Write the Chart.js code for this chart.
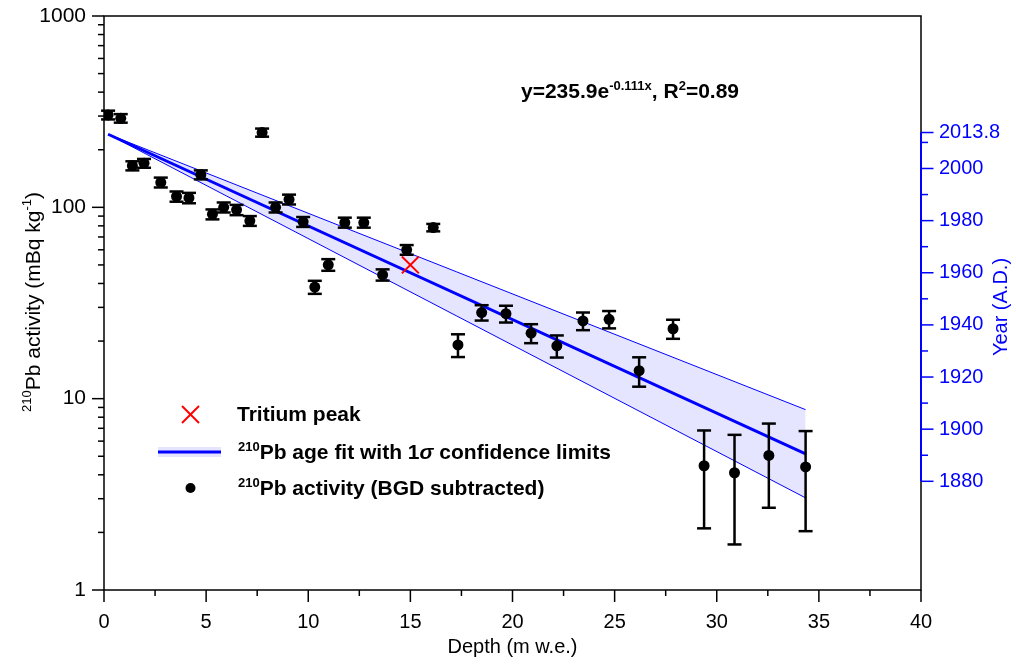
<!DOCTYPE html>
<html>
<head>
<meta charset="utf-8">
<script src="https://cdn.jsdelivr.net/npm/chart.js@4.4.1/dist/chart.umd.min.js"></script>
<style>
  html, body { margin: 0; padding: 0; background: #fff; }
</style>
</head>
<body>
<canvas id="grafico" width="1016" height="664"></canvas>
<script>
// dados
const depth = [0.2, 0.82, 1.39, 1.96, 2.78, 3.55, 4.16, 4.74, 5.31, 5.86, 6.49, 7.14, 7.74, 8.4, 9.06, 9.75,
  10.32, 10.98, 11.79, 12.72, 13.64, 14.82, 16.12, 17.33, 18.49, 19.68, 20.91, 22.17, 23.45, 24.73,
  26.2, 27.86, 29.38, 30.87, 32.55, 34.35];
const activity = [304, 292, 165, 170, 135, 114, 112, 148, 92, 100, 97, 85, 246, 100, 110, 84,
  38.3, 50.1, 83.3, 83.3, 44.4, 60, 78.4, 19.1, 28.2, 27.8, 22, 18.9, 25.5, 26,
  14, 23.2, 4.46, 4.1, 5.05, 4.4];
const activityErr = [16, 15, 9, 9, 8, 7, 7, 8, 5.5, 6, 6, 5, 12, 6, 6.5, 5,
  3, 3.5, 5, 5, 3, 3.5, 3.5, 2.6, 2.6, 2.8, 2.5, 2.5, 2.7, 2.7,
  2.45, 2.65, 2.36, 2.37, 2.36, 2.37];

const fitDepth = [0.2, 34.35];
const fitActivity = [241, 5.14];
const bandUpper = [241, 8.76];
const bandLower = [241, 3.03];

const tritiumDepth = [15];
const tritiumActivity = [50];

const depthTicks = [0, 2.5, 5, 7.5, 10, 12.5, 15, 17.5, 20, 22.5, 25, 27.5, 30, 32.5, 35, 37.5, 40];
const depthLabels = [0, 5, 10, 15, 20, 25, 30, 35, 40];
const activityTicks = [1, 2, 3, 4, 5, 6, 7, 8, 9, 10, 20, 30, 40, 50, 60, 70, 80, 90,
  100, 200, 300, 400, 500, 600, 700, 800, 900, 1000];
const activityLabels = [1, 10, 100, 1000];
const yearTicks = [2013.8, 2010, 2000, 1990, 1980, 1970, 1960, 1950, 1940, 1930, 1920, 1910, 1900, 1890, 1880];
const yearLabels = [2013.8, 2000, 1980, 1960, 1940, 1920, 1900, 1880];
const yearMin = 1838.3;
const yearMax = 2058.5;

const FONTE = '"Liberation Sans", Arial, Helvetica, sans-serif';
const AZUL = "#0000ff";
const FAIXA = "rgba(0,0,255,0.1)";

function pares(xs, ys) {
  return xs.map((x, i) => ({ x: x, y: ys[i] }));
}

function fonte(tam, peso, estilo) {
  return `${estilo || "normal"} ${peso || "normal"} ${tam}px ${FONTE}`;
}

function larguraRica(ctx, partes, tam, peso) {
  let w = 0;
  partes.forEach((p) => {
    ctx.font = fonte(p.sup ? Math.round(tam * 0.62) : tam, peso, p.estilo);
    w += ctx.measureText(p.t).width;
  });
  return w;
}

// texto com sobrescritos, x = inicio, y = linha de base
function textoRico(ctx, partes, x, y, tam, peso, cor) {
  ctx.fillStyle = cor;
  ctx.textAlign = "left";
  ctx.textBaseline = "alphabetic";
  let cx = x;
  partes.forEach((p) => {
    const s = p.sup ? Math.round(tam * 0.62) : tam;
    ctx.font = fonte(s, peso, p.estilo);
    ctx.fillText(p.t, cx, p.sup ? y - tam * 0.4 : y);
    cx += ctx.measureText(p.t).width;
  });
}

function textoVertical(ctx, partes, cx, cy, tam, peso, cor) {
  ctx.save();
  ctx.translate(cx, cy);
  ctx.rotate(-Math.PI / 2);
  const w = larguraRica(ctx, partes, tam, peso);
  textoRico(ctx, partes, -w / 2, tam * 0.36, tam, peso, cor);
  ctx.restore();
}

function linha(ctx, x1, y1, x2, y2) {
  ctx.beginPath();
  ctx.moveTo(x1, y1);
  ctx.lineTo(x2, y2);
  ctx.stroke();
}

function semPadding(s) {
  s.paddingTop = 0;
  s.paddingBottom = 0;
  s.paddingLeft = 0;
  s.paddingRight = 0;
}

const extras = {
  id: "extras",
  afterDatasetsDraw(chart) {
    const ctx = chart.ctx;
    const x = chart.scales.x;
    const y = chart.scales.y;
    ctx.save();
    ctx.strokeStyle = "#000";
    ctx.lineWidth = 2.5;
    depth.forEach((d, i) => {
      const px = x.getPixelForValue(d);
      const top = y.getPixelForValue(activity[i] + activityErr[i]);
      const bot = y.getPixelForValue(activity[i] - activityErr[i]);
      linha(ctx, px, top, px, bot);
      linha(ctx, px - 7, top, px + 7, top);
      linha(ctx, px - 7, bot, px + 7, bot);
    });
    ctx.restore();
  },
  afterDraw(chart) {
    const ctx = chart.ctx;
    const area = chart.chartArea;
    const x = chart.scales.x;
    const y = chart.scales.y;
    const ano = chart.scales.ano;
    ctx.save();

    // moldura
    ctx.strokeStyle = "#000";
    ctx.lineWidth = 1.5;
    ctx.strokeRect(area.left, area.top, area.right - area.left, area.bottom - area.top);

    // marcas do eixo x
    x.ticks.forEach((t) => {
      const px = x.getPixelForValue(t.value);
      const len = depthLabels.includes(t.value) ? 12 : 6;
      linha(ctx, px, area.bottom, px, area.bottom + len);
    });

    // marcas do eixo y
    y.ticks.forEach((t) => {
      const py = y.getPixelForValue(t.value);
      const len = activityLabels.includes(t.value) ? 12 : 6;
      linha(ctx, area.left - len, py, area.left, py);
    });

    // eixo dos anos
    ctx.strokeStyle = AZUL;
    ctx.lineWidth = 2;
    linha(ctx, area.right, ano.getPixelForValue(yearTicks[0]), area.right,
      ano.getPixelForValue(yearTicks[yearTicks.length - 1]));
    ctx.lineWidth = 1.5;
    ano.ticks.forEach((t) => {
      const py = ano.getPixelForValue(t.value);
      const len = yearLabels.includes(t.value) ? 12.5 : 7;
      linha(ctx, area.right, py, area.right + len, py);
    });

    // titulos
    ctx.fillStyle = "#000";
    ctx.font = fonte(20);
    ctx.textAlign = "center";
    ctx.textBaseline = "alphabetic";
    ctx.fillText("Depth (m w.e.)", (area.left + area.right) / 2, 653);
    textoVertical(ctx, [{ t: "210", sup: true }, { t: "Pb activity (mBq kg" }, { t: "-1", sup: true }, { t: ")" }],
      32, 302, 21, "normal", "#000");
    textoVertical(ctx, [{ t: "Year (A.D.)" }], 1000, 307, 20, "normal", AZUL);

    // equacao
    textoRico(ctx, [{ t: "y=235.9e" }, { t: "-0.111x", sup: true }, { t: ", R" }, { t: "2", sup: true }, { t: "=0.89" }],
      521, 98, 21, "bold", "#000");

    // legenda
    ctx.strokeStyle = "#ff0000";
    ctx.lineWidth = 2;
    linha(ctx, 182, 406, 199, 423);
    linha(ctx, 182, 423, 199, 406);
    textoRico(ctx, [{ t: "Tritium peak" }], 237, 421, 21, "bold", "#000");

    ctx.fillStyle = FAIXA;
    ctx.fillRect(158, 447, 63, 10);
    ctx.strokeStyle = AZUL;
    ctx.lineWidth = 3;
    linha(ctx, 158, 452, 221, 452);
    textoRico(ctx, [{ t: "210", sup: true }, { t: "Pb age fit with 1" }, { t: "\u03c3", estilo: "italic" }, { t: " confidence limits" }],
      238, 459, 21, "bold", "#000");

    ctx.fillStyle = "#000";
    ctx.beginPath();
    ctx.arc(190.5, 488, 5, 0, Math.PI * 2);
    ctx.fill();
    textoRico(ctx, [{ t: "210", sup: true }, { t: "Pb activity (BGD subtracted)" }],
      238, 495, 21, "bold", "#000");

    ctx.restore();
  }
};

const ctx = document.getElementById("grafico");

new Chart(ctx, {
  type: "line",
  data: {
    datasets: [
      {
        label: "upper",
        data: pares(fitDepth, bandUpper),
        borderColor: AZUL,
        borderWidth: 1,
        pointRadius: 0,
        fill: "+1",
        backgroundColor: FAIXA,
        order: 5
      },
      {
        label: "lower",
        data: pares(fitDepth, bandLower),
        borderColor: AZUL,
        borderWidth: 1,
        pointRadius: 0,
        fill: false,
        order: 4
      },
      {
        label: "fit",
        data: pares(fitDepth, fitActivity),
        borderColor: AZUL,
        borderWidth: 3,
        pointRadius: 0,
        fill: false,
        order: 3
      },
      {
        label: "Tritium peak",
        data: pares(tritiumDepth, tritiumActivity),
        showLine: false,
        pointStyle: "crossRot",
        pointRadius: 12,
        borderColor: "#ff0000",
        borderWidth: 2,
        order: 1
      },
      {
        label: "210Pb activity",
        data: pares(depth, activity),
        showLine: false,
        pointRadius: 5.5,
        backgroundColor: "#000",
        borderColor: "#000",
        borderWidth: 0,
        order: 0
      }
    ]
  },
  options: {
    responsive: false,
    animation: false,
    layout: { padding: { top: 16, left: 0, right: 0, bottom: 0 } },
    plugins: {
      legend: { display: false },
      tooltip: { enabled: false }
    },
    scales: {
      x: {
        type: "linear",
        position: "bottom",
        min: 0,
        max: 40,
        afterBuildTicks: (s) => { s.ticks = depthTicks.map((v) => ({ value: v })); },
        afterFit: (s) => { s.height = 74; semPadding(s); },
        grid: { display: false, drawTicks: false },
        border: { display: false },
        ticks: {
          autoSkip: false,
          maxRotation: 0,
          padding: 20,
          color: "#000",
          font: { family: FONTE, size: 20 },
          callback: (v) => (depthLabels.includes(v) ? String(v) : "")
        }
      },
      y: {
        type: "logarithmic",
        position: "left",
        min: 1,
        max: 1000,
        afterBuildTicks: (s) => { s.ticks = activityTicks.map((v) => ({ value: v })); },
        afterFit: (s) => { s.width = 104; semPadding(s); },
        grid: { display: false, drawTicks: false },
        border: { display: false },
        ticks: {
          autoSkip: false,
          padding: 18,
          color: "#000",
          font: { family: FONTE, size: 21 },
          callback: (v) => (activityLabels.includes(v) ? String(v) : "")
        }
      },
      ano: {
        type: "linear",
        position: "right",
        min: yearMin,
        max: yearMax,
        afterBuildTicks: (s) => { s.ticks = yearTicks.map((v) => ({ value: v })); },
        afterFit: (s) => { s.width = 95; semPadding(s); },
        grid: { display: false, drawTicks: false },
        border: { display: false },
        ticks: {
          autoSkip: false,
          padding: 18,
          color: AZUL,
          font: { family: FONTE, size: 20 },
          callback: (v) => (yearLabels.includes(v) ? (v === 2013.8 ? "2013.8" : String(v)) : "")
        }
      }
    }
  },
  plugins: [extras]
});
</script>
</body>
</html>
